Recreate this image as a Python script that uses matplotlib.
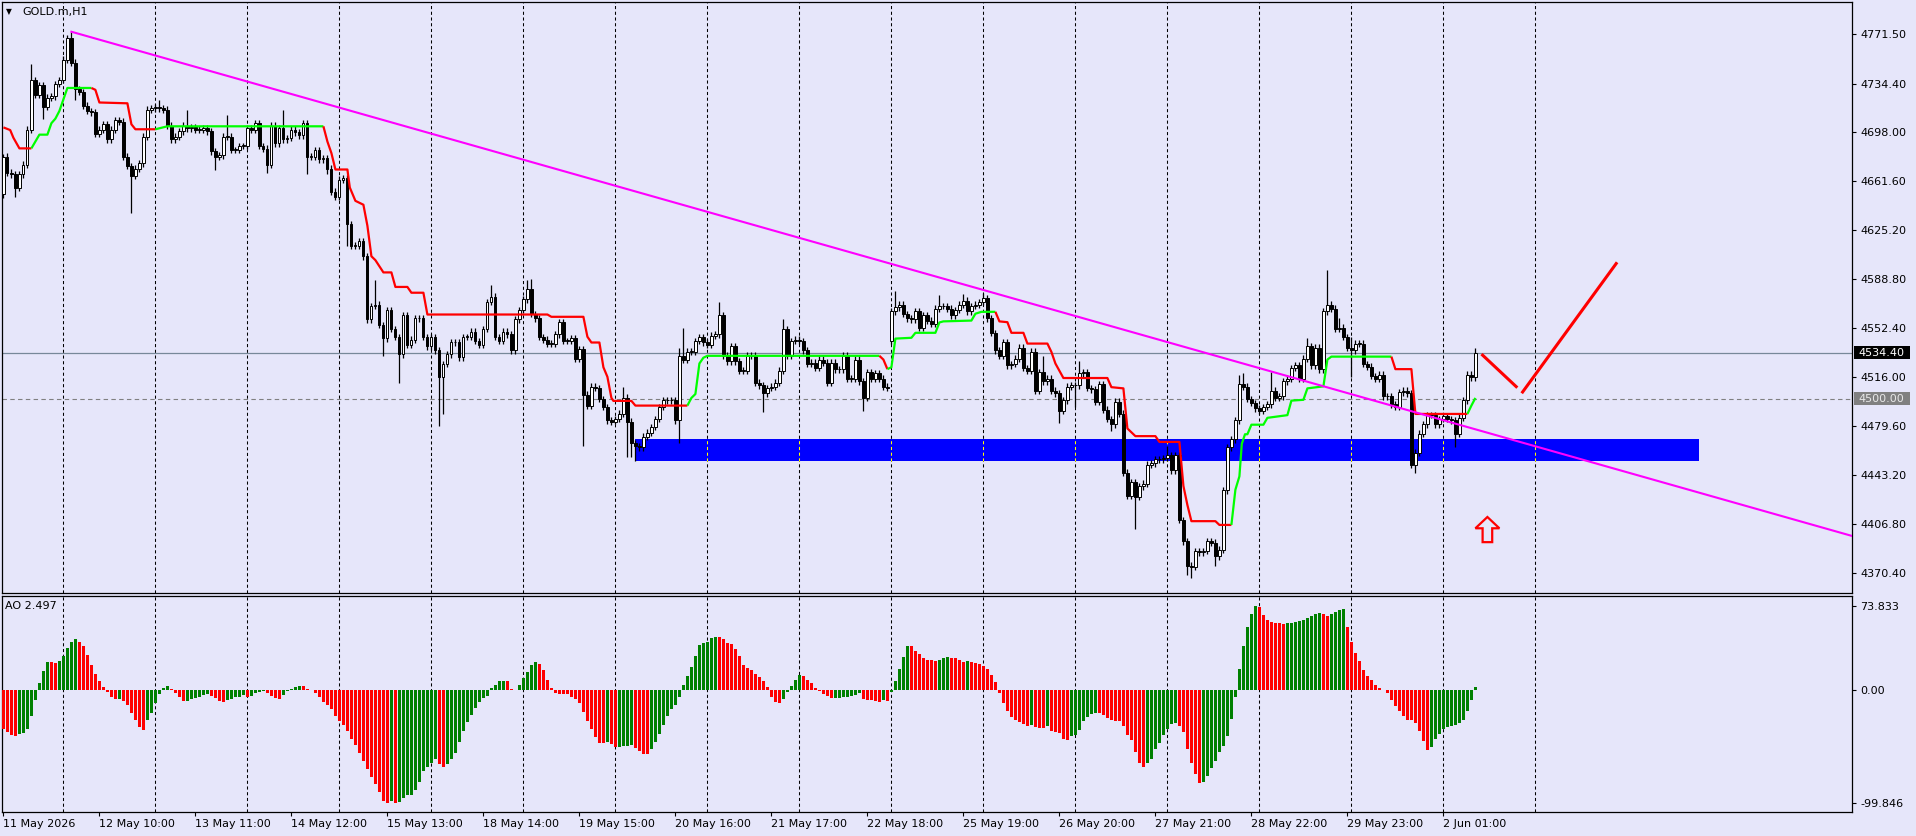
import matplotlib
matplotlib.use("Agg")
import matplotlib.pyplot as plt
from matplotlib.patches import Rectangle, Polygon

W, H, DPI = 1916, 836, 100
BG = "#E6E6FA"

# ---------------- data ----------------
# hourly closes, bar 0 = 11 May 2026, last bar = 2 Jun 09:00
closes = [
    4680, 4668, 4667, 4657, 4667, 4674, 4700, 4737, 4726, 4733,
    4717, 4724, 4725, 4734, 4737, 4752, 4768, 4750, 4730, 4728,
    4718, 4714, 4713, 4697, 4700, 4704, 4693, 4700, 4707, 4706,
    4680, 4673, 4666, 4671, 4675, 4695, 4715, 4716, 4717, 4716,
    4715, 4703, 4693, 4695, 4699, 4703, 4701, 4702, 4700, 4700,
    4701, 4699, 4684, 4680, 4681, 4695, 4695, 4685, 4685, 4688,
    4688, 4701, 4700, 4705, 4688, 4686, 4674, 4703, 4690, 4701,
    4693, 4694, 4700, 4698, 4696, 4705, 4680, 4680, 4685, 4678,
    4679, 4671, 4654, 4650, 4663, 4664, 4630, 4614, 4614, 4617,
    4606, 4559, 4569, 4570, 4555, 4545, 4566, 4552, 4546, 4533,
    4562, 4540, 4544, 4560, 4560, 4546, 4539, 4546, 4536, 4516,
    4526, 4533, 4542, 4542, 4531, 4546, 4546, 4550, 4543, 4540,
    4552, 4572, 4576, 4546, 4543, 4550, 4548, 4536, 4559, 4566,
    4574, 4582, 4563, 4560, 4546, 4544, 4541, 4541, 4548, 4557,
    4543, 4543, 4545, 4530, 4537, 4503, 4495, 4509, 4508, 4500,
    4494, 4484, 4483, 4485, 4489, 4501, 4483, 4467, 4465, 4464,
    4472, 4475, 4479, 4485, 4494, 4499, 4499, 4499, 4484, 4532,
    4529, 4535, 4535, 4543, 4546, 4542, 4540, 4547, 4548, 4562,
    4532, 4528, 4539, 4528, 4521, 4521, 4532, 4532, 4512, 4510,
    4504, 4508, 4509, 4512, 4521, 4552, 4532, 4543, 4544, 4543,
    4536, 4526, 4527, 4523, 4529, 4527, 4512, 4527, 4522, 4522,
    4532, 4515, 4515, 4529, 4513, 4501, 4520, 4515, 4519, 4515,
    4509, 4508, 4565, 4568, 4570, 4563, 4560, 4559, 4565, 4553,
    4562, 4558, 4556, 4567, 4569, 4569, 4567, 4562, 4566, 4570,
    4573, 4565, 4569, 4570, 4572, 4575, 4560, 4549, 4536, 4532,
    4542, 4525, 4526, 4530, 4538, 4523, 4521, 4535, 4506, 4520,
    4513, 4515, 4506, 4504, 4491, 4499, 4509, 4510, 4510, 4519,
    4520, 4508, 4507, 4498, 4511, 4492, 4485, 4481, 4498, 4489,
    4445, 4428, 4438, 4427, 4435, 4437, 4451, 4452, 4455, 4455,
    4456, 4458, 4447, 4458, 4410, 4394, 4376, 4375, 4387, 4386,
    4387, 4394, 4393, 4383, 4388, 4432, 4464, 4470, 4484, 4511,
    4509, 4500, 4497, 4493, 4491, 4494, 4496, 4506, 4501, 4502,
    4513, 4515, 4523, 4525, 4515, 4530, 4539, 4525, 4538, 4522,
    4565, 4570, 4567, 4552, 4553, 4546, 4538, 4536, 4541, 4541,
    4526, 4524, 4517, 4515, 4518, 4502, 4502, 4496, 4494, 4505,
    4506, 4504, 4451, 4460, 4474, 4481, 4488, 4488, 4481, 4485,
    4487, 4485, 4484, 4474, 4486, 4499, 4518, 4516, 4534.4,
]
first_open = 4652
gap_opens = {222: 4543}          # Monday open after the weekend
highs_marked = {0: 4682, 7: 4749, 17: 4773, 39: 4722, 46: 4715, 56: 4711,
                70: 4715, 93: 4588, 122: 4585, 131: 4588, 132: 4589,
                155: 4509, 169: 4538, 170: 4553, 179: 4572, 195: 4559,
                223: 4580, 234: 4577, 240: 4578, 245: 4579, 260: 4532,
                269: 4528, 291: 4465, 309: 4518, 310: 4519, 317: 4520,
                326: 4545, 331: 4596, 334: 4560, 337: 4546, 368: 4538}
lows_marked = {3: 4650, 10: 4708, 18: 4722, 32: 4638, 53: 4670, 66: 4668,
               76: 4667, 81: 4667, 86: 4614, 95: 4532, 99: 4512, 109: 4480,
               110: 4489, 145: 4465, 153: 4481, 156: 4457, 157: 4457,
               158: 4454, 169: 4467, 190: 4490, 215: 4491, 264: 4482,
               268: 4494, 277: 4476, 283: 4403, 296: 4369, 297: 4367,
               303: 4376, 337: 4516, 353: 4445, 363: 4464}
WICK = 2.5

# Awesome Oscillator
ao_values = [
    -34.5, -37.4, -39.7, -40.9, -39.2, -38.0, -34.5, -23.5, -9.3, 6.1,
    16.5, 24.4, 24.1, 23.8, 25.2, 29.9, 36.5, 42.3, 44.4, 42.3,
    38.6, 30.7, 22.0, 13.9, 7.5, 2.6, -2.0, -6.1, -8.4, -7.8,
    -10.2, -13.3, -20.9, -26.7, -33.1, -35.4, -26.7, -20.6, -11.9, -4.1,
    1.7, 3.5, 0.9, -2.6, -6.1, -10.2, -9.9, -8.4, -7.3, -6.4,
    -4.4, -4.1, -5.5, -7.5, -9.6, -10.7, -9.3, -7.8, -6.7, -6.1,
    -4.9, -6.1, -5.5, -3.2, -2.0, -0.9, -2.6, -5.5, -7.3, -7.8,
    -4.4, -1.5, 0.6, 2.3, 3.5, 3.2, 0.6, -0.3, -2.6, -6.1,
    -10.7, -13.1, -17.1, -22.9, -27.3, -31.0, -36.0, -43.2, -49.0, -55.4,
    -62.6, -69.9, -76.9, -82.7, -90.2, -97.7, -99.846, -98.3, -99.5, -98.9,
    -95.4, -92.8, -92.5, -88.2, -80.9, -71.6, -67.9, -64.1, -61.2, -65.0,
    -68.4, -65.3, -61.2, -55.4, -46.1, -36.3, -28.7, -22.6, -16.0, -10.4,
    -7.3, -5.5, 1.5, 4.4, 7.8, 8.1, 7.5, 0.3, -0.6, 4.4,
    10.4, 15.7, 22.0, 24.7, 22.9, 17.4, 8.4, 1.7, -3.2, -3.5,
    -3.8, -4.1, -6.1, -7.8, -11.3, -19.4, -27.3, -34.5, -41.2, -46.7,
    -47.0, -46.4, -47.6, -50.5, -50.2, -49.6, -49.3, -49.0, -51.0, -54.2,
    -56.3, -56.6, -52.5, -46.1, -38.9, -31.0, -23.2, -17.1, -13.1, -6.7,
    4.4, 12.5, 20.3, 29.9, 39.2, 40.9, 42.3, 45.8, 46.4, 46.1,
    45.0, 41.5, 40.3, 36.3, 29.3, 22.0, 18.9, 17.4, 13.9, 11.3,
    7.8, 2.0, -6.7, -10.7, -11.6, -8.4, -2.0, 3.2, 8.4, 13.1,
    11.9, 8.4, 6.1, 1.7, -1.5, -3.5, -5.5, -7.5, -7.3, -7.0,
    -6.7, -6.1, -5.5, -4.4, -3.2, -7.8, -9.0, -9.3, -9.6, -11.0,
    -9.0, -9.6, -2.0, 7.8, 18.3, 28.7, 38.9, 38.6, 34.5, 31.3,
    28.4, 26.1, 25.8, 25.5, 26.4, 28.4, 28.7, 28.1, 27.8, 25.8,
    24.7, 25.2, 24.4, 23.5, 22.3, 20.6, 18.3, 13.3, 6.7, -3.2,
    -11.3, -18.9, -24.1, -26.7, -28.7, -30.2, -32.2, -31.0, -32.8, -33.6,
    -33.9, -31.6, -36.0, -36.8, -38.0, -43.2, -44.1, -40.9, -40.3, -35.1,
    -27.3, -24.1, -21.5, -20.6, -20.9, -22.3, -24.9, -26.7, -27.3, -27.6,
    -31.6, -39.7, -44.1, -54.8, -64.1, -67.9, -64.1, -60.6, -52.2, -46.7,
    -39.7, -34.5, -30.2, -29.6, -31.6, -37.4, -51.9, -64.1, -74.5, -82.4,
    -81.5, -76.3, -69.3, -62.9, -54.8, -49.6, -40.9, -25.8, -6.7, 18.3,
    38.6, 55.4, 67.0, 73.833, 72.6, 66.1, 61.2, 59.5, 58.9, 58.6,
    58.3, 58.6, 58.9, 59.5, 60.3, 61.8, 63.5, 65.3, 67.0, 67.6,
    66.4, 65.3, 67.0, 68.7, 70.2, 71.1, 55.1, 41.8, 32.2, 24.9,
    17.7, 11.9, 8.4, 4.4, 1.7, -0.3, -3.2, -9.0, -14.2, -18.9,
    -22.9, -26.4, -26.7, -29.6, -36.5, -45.0, -53.4, -50.5, -43.2, -38.9,
    -34.5, -32.8, -31.6, -30.7, -29.6, -26.4, -18.6, -9.3, 2.497,
]

# trailing stop line: (colour, bar vertices, price vertices)
trail = [
    ("#FF0000", [0, 1.7, 2.5, 4, 7], [4701.8, 4699.8, 4694.1, 4686.2, 4686.2]),
    ("#00FF00", [7, 9, 11, 12, 13, 14, 15, 16, 22],
     [4686.2, 4696.4, 4696.4, 4704.9, 4708.3, 4714.0, 4722.6, 4731.1, 4731.1]),
    ("#FF0000", [22, 23, 24, 31, 32, 33, 38],
     [4731.1, 4729.7, 4720.3, 4719.7, 4704.1, 4700.4, 4700.4]),
    ("#00FF00", [38, 41, 80], [4700.4, 4702.6, 4702.6]),
    ("#FF0000",
     [80, 81, 82, 83, 86, 86.6, 88, 90, 91, 92, 93, 95, 97, 98, 101, 102, 105,
      106, 136, 137, 145, 146, 147, 149, 150, 151, 152, 152.5, 157, 158, 171],
     [4702.6, 4691.3, 4682.7, 4670.5, 4670.5, 4657.1, 4647.2, 4644.3, 4628.7,
      4606.0, 4603.1, 4594.0, 4594.0, 4583.2, 4583.2, 4578.9, 4578.9, 4562.7,
      4562.7, 4561.0, 4561.0, 4546.2, 4541.9, 4541.9, 4523.5, 4516.4, 4500.7,
      4498.5, 4498.5, 4495.0, 4495.0]),
    ("#00FF00", [171, 172, 173, 174, 175, 176, 219],
     [4495.0, 4500.7, 4503.6, 4526.3, 4530.6, 4532.0, 4532.0]),
    ("#FF0000", [219, 220, 221], [4532.0, 4529.2, 4522.1]),
    ("#00FF00", [221, 222, 223, 227, 228, 233, 234, 235, 242, 243, 244.5, 248],
     [4522.1, 4523.5, 4544.8, 4545.4, 4549.1, 4549.1, 4556.8, 4557.6, 4558.2,
      4563.3, 4564.7, 4564.7]),
    ("#FF0000",
     [248, 249, 251, 252, 255, 256, 261, 262, 263, 265, 276, 277, 280, 281, 283,
      288, 289, 294, 295, 296, 297, 303, 304, 307],
     [4564.7, 4557.6, 4557.0, 4549.1, 4549.1, 4541.1, 4541.1, 4534.9, 4526.3,
      4515.5, 4515.5, 4508.7, 4507.8, 4478.0, 4472.3, 4472.3, 4468.0, 4468.0,
      4435.3, 4421.1, 4409.1, 4409.1, 4406.3, 4406.3]),
    ("#00FF00",
     [307, 308, 309, 309.6, 310.4, 311, 312, 315, 316, 321, 322, 325, 326, 330,
      331, 332, 347],
     [4406.3, 4432.5, 4442.4, 4466.6, 4473.7, 4473.7, 4480.8, 4480.8, 4485.9,
      4487.9, 4498.7, 4499.3, 4507.8, 4509.3, 4529.2, 4531.4, 4531.4]),
    ("#FF0000", [347, 348, 352, 353, 366], [4531.4, 4522.1, 4522.1, 4488.8, 4488.8]),
    ("#00FF00", [366, 367, 368], [4488.8, 4495.0, 4500.7]),
]

trend_pts = ([17, 222], [4772.9, 4600.3])        # ray, extended right
zone_bars = (158, 424)
zone_prices = (4453.8, 4470.3)
path_a = ([369.8, 378.2], [4532.5, 4509.1])
path_b = ([379.8, 403.2], [4505.1, 4600.6])
arrow_bar, arrow_top, arrow_mid, arrow_bot = 371.0, 4412.2, 4403.8, 4393.5
bid = 4534.40
alert = 4500.00

price_ticks = [4771.50, 4734.40, 4698.00, 4661.60, 4625.20, 4588.80,
               4552.40, 4516.00, 4479.60, 4443.20, 4406.80, 4370.40]
ao_ticks = [73.833, 0.0, -99.846]
ao_tick_labels = ["73.833", "0.00", "-99.846"]
time_labels = ["11 May 2026", "12 May 10:00", "13 May 11:00", "14 May 12:00",
               "15 May 13:00", "18 May 14:00", "19 May 15:00", "20 May 16:00",
               "21 May 17:00", "22 May 18:00", "25 May 19:00", "26 May 20:00",
               "27 May 21:00", "28 May 22:00", "29 May 23:00", "2 Jun 01:00"]
LABEL_STEP = 24
GRID_START, GRID_STEP, GRID_END = 15, 23, 383

# ---------------- figure ----------------
plt.rcParams["font.family"] = ["DejaVu Sans"]
fig = plt.figure(figsize=(W / DPI, H / DPI), dpi=DPI, facecolor=BG)

def rect(l, t, r, b):
    return [l / W, 1 - b / H, (r - l) / W, (b - t) / H]

ax = fig.add_axes(rect(2, 2, 1852, 593), facecolor=BG)
ax2 = fig.add_axes(rect(2, 596, 1852, 812), facecolor=BG, sharex=ax)

xmin, xmax = -0.35, 462.15
ax.set_xlim(xmin, xmax)
ax.set_ylim(4355.7, 4795.0)
ax2.set_ylim(-107.7, 82.6)

n = len(closes)
xs = list(range(n))
opens = [first_open] + closes[:-1]
for i, v in gap_opens.items():
    opens[i] = v
highs = [highs_marked.get(i, max(opens[i], closes[i]) + WICK) for i in xs]
lows = [lows_marked.get(i, min(opens[i], closes[i]) - WICK) for i in xs]

# grid
grid_bars = list(range(GRID_START, GRID_END + 1, GRID_STEP))
for a in (ax, ax2):
    for g in grid_bars:
        a.axvline(g, color="black", lw=0.75, ls=(0, (3, 2.5)), zorder=1)

# support zone
z0, z1 = zone_bars
ax.add_patch(Rectangle((z0, zone_prices[0]), z1 - z0, zone_prices[1] - zone_prices[0],
                       facecolor="#0000FF", edgecolor="none", zorder=2))
for g in grid_bars:
    if z0 < g < z1:
        ax.vlines(g, zone_prices[0], zone_prices[1], color="#FFFF00", lw=0.75,
                  ls=(0, (3, 2.5)), zorder=2.2)

# horizontal lines
ax.axhline(bid, color="#778899", lw=0.9, zorder=1.5)
ax.axhline(alert, color="#808080", lw=0.8, ls=(0, (4, 3)), zorder=1.5)

# candles
ax.vlines(xs, lows, highs, color="black", lw=0.9, zorder=3)
bottoms = [min(o, c) for o, c in zip(opens, closes)]
heights = [max(abs(c - o), 0.4) for o, c in zip(opens, closes)]
fcols = ["white" if c >= o else "black" for o, c in zip(opens, closes)]
ax.bar(xs, heights, bottom=bottoms, width=0.55, color=fcols,
       edgecolor="black", linewidth=0.7, zorder=4)

# trailing line
for col, bx, by in trail:
    ax.plot(bx, by, color=col, lw=1.6, zorder=5, solid_capstyle="butt")

# trend line ray
(tx0, tx1), (ty0, ty1) = trend_pts
slope = (ty1 - ty0) / (tx1 - tx0)
ax.plot([tx0, xmax], [ty0, ty0 + slope * (xmax - tx0)], color="#FF00FF",
        lw=1.5, zorder=5)

# drawn path
ax.plot(*path_a, color="#FF0000", lw=2.2, zorder=6)
ax.plot(*path_b, color="#FF0000", lw=2.2, zorder=6)

# up arrow
hw, sw = 3.0, 1.2
arrow = Polygon([(arrow_bar, arrow_top), (arrow_bar + hw, arrow_mid),
                 (arrow_bar + sw, arrow_mid), (arrow_bar + sw, arrow_bot),
                 (arrow_bar - sw, arrow_bot), (arrow_bar - sw, arrow_mid),
                 (arrow_bar - hw, arrow_mid)], closed=True,
                facecolor="none", edgecolor="#FF0000", lw=1.6, zorder=6)
ax.add_patch(arrow)

# AO histogram
colors = []
prev_col = "#FF0000"
for i, v in enumerate(ao_values):
    if i > 0 and v > ao_values[i - 1]:
        prev_col = "#008000"
    elif i > 0 and v < ao_values[i - 1]:
        prev_col = "#FF0000"
    colors.append(prev_col)
ax2.bar(range(len(ao_values)), ao_values, width=0.72, color=colors,
        linewidth=0, zorder=3)

# axes styling
for a in (ax, ax2):
    for s in a.spines.values():
        s.set_color("black")
        s.set_linewidth(0.9)
    a.yaxis.tick_right()
    a.tick_params(axis="y", length=3, width=0.8, pad=3, labelsize=8,
                  colors="black")

ax.set_yticks(price_ticks, labels=[f"{v:.2f}" for v in price_ticks])
ax2.set_yticks(ao_ticks, labels=ao_tick_labels)
ax.tick_params(axis="x", bottom=False, labelbottom=False)
ax2.set_xticks([LABEL_STEP * k for k in range(len(time_labels))], labels=time_labels)
ax2.tick_params(axis="x", length=3, width=0.8, pad=2, labelsize=8)
for lbl in ax2.get_xticklabels():
    lbl.set_ha("left")

# price tags on the scale
fig.canvas.draw()

def tag(value, text, fc, tc):
    y = H - ax.transData.transform((0, value))[1]
    fig.patches.append(Rectangle((1854 / W, 1 - (y + 6.5) / H), 56 / W, 13 / H,
                                 transform=fig.transFigure, facecolor=fc,
                                 edgecolor="none", zorder=10))
    fig.text(1858 / W, 1 - y / H, text, color=tc, fontsize=8, va="center",
             ha="left", zorder=11)

tag(bid, f"{bid:.2f}", "black", "white")
tag(alert, f"{alert:.2f}", "#808080", "#E8E8E8")

# titles
fig.text(6 / W, 1 - 12 / H, "\u25bc", fontsize=5.5, va="center", ha="left")
fig.text(22 / W, 1 - 12 / H, "GOLD.m,H1", fontsize=8, va="center", ha="left")
fig.text(5 / W, 1 - 606 / H, f"AO {ao_values[-1]:.3f}", fontsize=8,
         va="center", ha="left")

fig.savefig("out.png", dpi=DPI, facecolor=BG)
